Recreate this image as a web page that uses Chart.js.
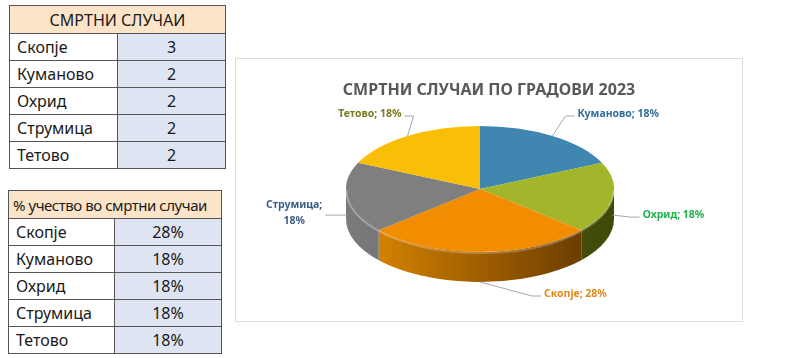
<!DOCTYPE html>
<html>
<head>
<meta charset="utf-8">
<script src="https://cdn.jsdelivr.net/npm/chart.js@4/dist/chart.umd.min.js"></script>
<style>
  html, body { margin:0; padding:0; background:#fff; width:800px; height:358px; overflow:hidden; }
  .tbl { position:absolute; border-collapse:collapse; font-family:"Noto Sans", sans-serif; font-size:16px; color:#1a1a1a; }
  .tbl td, .tbl th { border:1.5px solid #555; padding:0; height:26px; line-height:24px; white-space:nowrap; }
  .tbl th { background:#fce4c8; font-weight:normal; height:27px; }
  .tbl td.n { padding-left:7px; text-align:left; background:#fff; }
  .tbl td.v { text-align:center; background:#dfe4f2; }
  #t1 { left:9px; top:5px; width:217px; }
  #t1 th { text-align:center; }
  #t2 { left:8px; top:190px; width:214px; }
  #t2 th { text-align:left; padding-left:4px; font-size:15px; letter-spacing:-0.45px; overflow:hidden; }
  #box { position:absolute; left:235px; top:58px; width:506px; height:262px; border:1.5px solid #dcdcdc; }
  #box canvas { display:block; }
</style>
</head>
<body>
<table class="tbl" id="t1"><thead><tr><th colspan="2" id="h1"></th></tr></thead><tbody id="b1"></tbody></table>
<table class="tbl" id="t2"><thead><tr><th colspan="2" id="h2"></th></tr></thead><tbody id="b2"></tbody></table>
<div id="box"><canvas id="c" width="506" height="262"></canvas></div>
<script>
// ---- data ----
const tableCities = ['Скопје', 'Куманово', 'Охрид', 'Струмица', 'Тетово'];
const tableDeaths = [3, 2, 2, 2, 2];
const tableShares = ['28%', '18%', '18%', '18%', '18%'];
const table1Title = 'СМРТНИ СЛУЧАИ';
const table2Title = '% учество во смртни случаи';

const chartTitle = 'СМРТНИ СЛУЧАИ ПО ГРАДОВИ 2023';
const pieCities = ['Куманово', 'Охрид', 'Скопје', 'Струмица', 'Тетово'];
const pieDeaths = [2, 2, 3, 2, 2];
const pieShares = ['18%', '18%', '28%', '18%', '18%'];

// ---- styles ----
const sliceColors = ['#3f86b1', '#a3b52a', '#f28c00', '#7f7f7f', '#f8bf06'];
const sideColors = [
  ['#2a5a78', '#1f4560'],
  ['#5a6a14', '#3f4a08'],
  ['#e38d00', '#a05e00', '#5a3300'],
  ['#7a7a7a', '#5e5e5e'],
  ['#b08600', '#8a6a00']
];
const labelColors = ['#2f6d9b', '#21b04b', '#e08a1c', '#3a5d86', '#7b7b22'];
const labelOffsets = [[25, -22], [30, 0], [64, 12], [-25, -2], [-6, -22]];

// tables
function fillTable(hId, bId, title, vals) {
  document.getElementById(hId).textContent = title;
  const b = document.getElementById(bId);
  tableCities.forEach((c, i) => {
    const tr = document.createElement('tr');
    const a = document.createElement('td'); a.className = 'n'; a.textContent = c;
    const v = document.createElement('td'); v.className = 'v'; v.textContent = vals[i];
    tr.appendChild(a); tr.appendChild(v); b.appendChild(tr);
  });
}
fillTable('h1', 'b1', table1Title, tableDeaths);
fillTable('h2', 'b2', table2Title, tableShares);
document.querySelectorAll('#t1 td.n').forEach(td => td.style.width = '100px');
document.querySelectorAll('#t2 td.n').forEach(td => td.style.width = '98px');

// 3D pie geometry (screen, canvas coords)
const G = { cx: 244, cy: 130, rx: 134, ry: 63, depth: 30 };

const pie3d = {
  id: 'pie3d',
  beforeDatasetsDraw(chart) {
    const ctx = chart.ctx;
    const meta = chart.getDatasetMeta(0);
    meta.data.forEach((arc, i) => {
      const a1 = Math.max(arc.startAngle, 0), a2 = Math.min(arc.endAngle, Math.PI);
      if (a1 >= a2) return;
      const g = ctx.createLinearGradient(G.cx - G.rx, 0, G.cx + G.rx, 0);
      const cs = sideColors[i];
      cs.forEach((c, k) => g.addColorStop(k / (cs.length - 1), c));
      ctx.save();
      ctx.beginPath();
      ctx.ellipse(G.cx, G.cy, G.rx, G.ry, 0, a1, a2);
      ctx.ellipse(G.cx, G.cy + G.depth, G.rx, G.ry, 0, a2, a1, true);
      ctx.closePath();
      ctx.fillStyle = g;
      ctx.fill();
      ctx.restore();
    });
    const a0 = meta.data[0];
    ctx.save();
    ctx.translate(G.cx, G.cy);
    ctx.scale(G.rx / a0.outerRadius, G.ry / a0.outerRadius);
    ctx.translate(-a0.x, -a0.y);
  },
  afterDatasetsDraw(chart) {
    const ctx = chart.ctx;
    ctx.restore();
    const meta = chart.getDatasetMeta(0);
    meta.data.forEach((arc, i) => {
      const a1 = Math.max(arc.startAngle, 0), a2 = Math.min(arc.endAngle, Math.PI);
      if (a1 >= a2) return;
      ctx.save();
      ctx.beginPath();
      ctx.ellipse(G.cx, G.cy + 1, G.rx - 0.5, G.ry, 0, a1, a2);
      ctx.strokeStyle = 'rgba(255,255,255,0.25)';
      ctx.lineWidth = 2;
      ctx.stroke();
      ctx.restore();
    });
    ctx.save();
    ctx.font = 'bold 10.5px "Noto Sans", sans-serif';
    ctx.textBaseline = 'middle';
    meta.data.forEach((arc, i) => {
      const m = (arc.startAngle + arc.endAngle) / 2;
      const s = Math.sin(m), c = Math.cos(m);
      let ax = G.cx + G.rx * c, ay = G.cy + G.ry * s;
      if (s > 0) ay += G.depth * (0.5 + 0.5 * s);
      const dir = c >= 0 ? 1 : -1;
      const lx = ax + labelOffsets[i][0], ly = ay + labelOffsets[i][1];
      ctx.beginPath();
      ctx.moveTo(ax, ay);
      ctx.lineTo(lx - dir * 12, ly + 2);
      ctx.lineTo(lx - dir * 3, ly + 2);
      ctx.strokeStyle = '#a6a6a6';
      ctx.lineWidth = 1;
      ctx.stroke();
      ctx.fillStyle = labelColors[i];
      const full = pieCities[i] + '; ' + pieShares[i];
      if (Math.abs(c) > 0.9 && dir < 0) {
        ctx.textAlign = 'center';
        const l1 = pieCities[i] + ';';
        const w1 = ctx.measureText(l1).width;
        const mx = lx - w1 / 2;
        ctx.fillText(l1, mx, ly - 8);
        ctx.fillText(pieShares[i], mx, ly + 8);
      } else {
        ctx.textAlign = dir > 0 ? 'left' : 'right';
        ctx.fillText(full, lx, ly);
      }
    });
    ctx.restore();
  }
};

new Chart(document.getElementById('c'), {
  type: 'pie',
  data: {
    labels: pieCities,
    datasets: [{ data: pieDeaths, backgroundColor: sliceColors, borderWidth: 0, clip: false }]
  },
  options: {
    responsive: false,
    animation: false,
    layout: { padding: { top: 10, bottom: 10 } },
    plugins: {
      legend: { display: false },
      tooltip: { enabled: false },
      title: {
        display: true,
        text: chartTitle,
        color: '#595959',
        font: { family: '"Noto Sans", sans-serif', size: 16, weight: 'bold' },
        padding: { top: 12, bottom: 10 }
      }
    }
  },
  plugins: [pie3d]
});
</script>
</body>
</html>
